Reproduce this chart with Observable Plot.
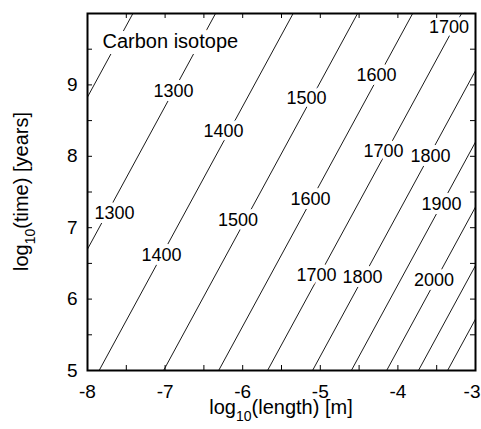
<!DOCTYPE html>
<html>
<head>
<meta charset="utf-8">
<script src="https://cdn.jsdelivr.net/npm/d3@7"></script>
<script src="https://cdn.jsdelivr.net/npm/@observablehq/plot@0.6"></script>
<style>
  html, body { margin: 0; padding: 0; background: #fff; }
  #chart svg { display: block; }
</style>
</head>
<body>
<div id="chart"></div>
<script>
// ---- Data ----
// Contour levels (temperature) and where each straight contour crosses log10(time)=5 and =10
const levels       = [1200, 1300, 1400, 1500, 1600, 1700, 1800, 1900, 2000, 2100, 2200];
const xAtLogTime5  = [-9.915, -8.85, -7.85, -7.02, -6.31, -5.68, -5.10, -4.60, -4.145, -3.735, -3.36];
const xAtLogTime10 = [-7.415, -6.35, -5.35, -4.52, -3.81, -3.18, -2.60, -2.10, -1.645, -1.235, -0.86];

// Inline contour labels
const labelText = ["1300", "1300", "1400", "1400", "1500", "1500", "1600", "1600", "1700", "1700", "1700", "1800", "1800", "1900", "2000"];
const labelX    = [-6.892, -7.652, -6.247, -7.046, -5.178, -6.061, -4.276, -5.126, -3.341, -4.186, -5.049, -3.580, -4.456, -3.438, -3.535];
const labelY    = [8.913, 7.202, 8.345, 6.613, 8.815, 7.101, 9.137, 7.405, 9.811, 8.065, 6.332, 7.994, 6.311, 7.335, 6.262];

const xTicks      = [-8, -7, -6, -5, -4, -3];
const xTickLabels = ["-8", "-7", "-6", "-5", "-4", "-3"];
const yTicks      = [5, 6, 7, 8, 9];
const yTickLabels = ["5", "6", "7", "8", "9"];
const xMinorTicks = [-8, -7.5, -7, -6.5, -6, -5.5, -5, -4.5, -4, -3.5, -3];
const yMinorTicks = [5, 5.5, 6, 6.5, 7, 7.5, 8, 8.5, 9, 9.5, 10];

const titleText = "Carbon isotope";
const xTitle = ["log", "10", "(length) [m]"];
const yTitle = ["log", "10", "(time) [years]"];

// ---- Build tables ----
const contourLines = levels.map((lv, i) => ({level: lv, x1: xAtLogTime5[i], y1: 5, x2: xAtLogTime10[i], y2: 10}));
const contourLabels = labelText.map((t, i) => ({text: t, x: labelX[i], y: labelY[i]}));
const xTickTable = xTicks.map((v, i) => ({x: v, label: xTickLabels[i]}));
const lastX = xTickTable.length - 1;

const W = 481, H = 429, mt = 13, mr = 6, mb = 59, ml = 87;
const innerW = W - ml - mr, innerH = H - mt - mb;
const tickLen = 5;
const font = "'Liberation Sans', Arial, Helvetica, sans-serif";

const chart = Plot.plot({
  width: W,
  height: H,
  marginTop: mt,
  marginRight: mr,
  marginBottom: mb,
  marginLeft: ml,
  style: {fontFamily: font, background: "#fff", color: "#000", overflow: "visible"},
  x: {domain: [-8, -3], label: null, axis: null},
  y: {domain: [5, 10], label: null},
  marks: [
    Plot.link(contourLines, {x1: "x1", y1: "y1", x2: "x2", y2: "y2", stroke: "#1a1a1a", strokeWidth: 1, clip: true}),
    Plot.text(contourLabels, {x: "x", y: "y", text: "text", fontSize: 18, fill: "#000", stroke: "#fff", strokeWidth: 8}),
    Plot.text([titleText], {frameAnchor: "top-left", text: d => d, dx: 15, dy: 28, textAnchor: "start", lineAnchor: "middle", fontSize: 20, fill: "#000", stroke: "#fff", strokeWidth: 12}),
    // inward ticks on all four sides
    Plot.ruleX(xMinorTicks, {insetTop: innerH - tickLen, stroke: "#000", strokeWidth: 1}),
    Plot.ruleX(xMinorTicks, {insetBottom: innerH - tickLen, stroke: "#000", strokeWidth: 1}),
    Plot.ruleY(yMinorTicks, {insetRight: innerW - tickLen, stroke: "#000", strokeWidth: 1}),
    Plot.ruleY(yMinorTicks, {insetLeft: innerW - tickLen, stroke: "#000", strokeWidth: 1}),
    Plot.frame({stroke: "#000", strokeWidth: 2}),
    // x tick labels (last one kept inside the page edge)
    Plot.text(xTickTable.slice(0, lastX), {x: "x", text: "label", frameAnchor: "bottom", dy: 21, lineAnchor: "middle", fontSize: 19, fill: "#000"}),
    Plot.text(xTickTable.slice(lastX), {x: "x", text: "label", frameAnchor: "bottom", dy: 21, dx: 5, textAnchor: "end", lineAnchor: "middle", fontSize: 19, fill: "#000"}),
    Plot.axisY(yTicks, {tickSize: 0, tickPadding: 10, fontSize: 19, tickFormat: d => yTickLabels[yTicks.indexOf(d)], label: null})
  ]
});

document.getElementById("chart").appendChild(chart);

// Axis titles with subscripts
const svg = d3.select(chart);
const xt = svg.append("text")
  .attr("x", ml + innerW / 2)
  .attr("y", 414)
  .attr("text-anchor", "middle")
  .attr("font-family", font)
  .attr("font-size", 20)
  .attr("fill", "#000");
xt.append("tspan").text(xTitle[0]);
xt.append("tspan").attr("font-size", 14).attr("dy", 7).text(xTitle[1]);
xt.append("tspan").attr("dy", -7).text(xTitle[2]);

const yt = svg.append("text")
  .attr("transform", `translate(28,${mt + innerH / 2}) rotate(-90)`)
  .attr("text-anchor", "middle")
  .attr("font-family", font)
  .attr("font-size", 20)
  .attr("fill", "#000");
yt.append("tspan").text(yTitle[0]);
yt.append("tspan").attr("font-size", 14).attr("dy", 7).text(yTitle[1]);
yt.append("tspan").attr("dy", -7).text(yTitle[2]);
</script>
</body>
</html>
